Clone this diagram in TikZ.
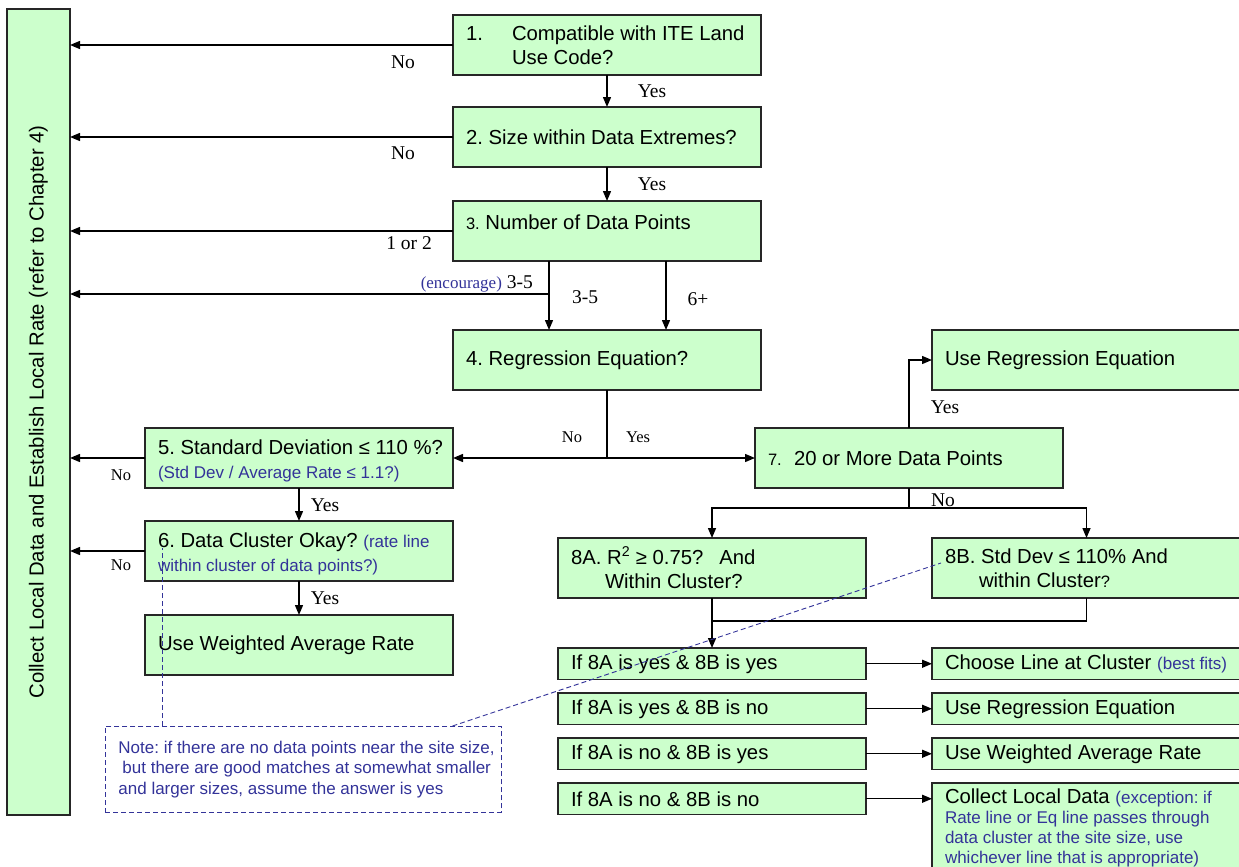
\documentclass[tikz,border=0pt]{standalone}
\usepackage{fontspec}
\setmainfont{Liberation Sans}
\newfontfamily\tnr{Liberation Serif}
\usetikzlibrary{arrows.meta}
\definecolor{boxgreen}{HTML}{CCFFCC}
\definecolor{noteblue}{HTML}{333399}
\newcommand{\bodyfont}{\fontsize{20.3}{24.5}\selectfont}
\newcommand{\aside}[1]{{\color{noteblue}\fontsize{17}{20}\selectfont #1}}
\newcommand{\smallnum}[1]{{\fontsize{16.5}{20}\selectfont #1}}
\newcommand{\evenspaces}{\frenchspacing\spaceskip=0pt\xspaceskip=0pt}
\tikzstyle{box}=[draw=black!85, fill=boxgreen, line width=1.3pt, anchor=north west, inner xsep=13pt, inner ysep=0pt, text width=282pt, minimum height=60pt, align=left, font=\bodyfont, outer sep=0pt, execute at begin node=\evenspaces]
\tikzstyle{row}=[box, minimum height=31.5pt]
\tikzstyle{wide}=[text width=283pt]
\tikzstyle{sidebar}=[draw=black!85, fill=boxgreen, line width=1.3pt, rotate=90, inner sep=0pt, minimum width=806pt, minimum height=63pt, font=\bodyfont, outer sep=0pt]
\tikzstyle{lab}=[inner sep=0pt, font=\tnr\fontsize{19.5}{22}\selectfont]
\tikzstyle{slab}=[inner sep=0pt, font=\tnr\fontsize{16.5}{19}\selectfont]
\tikzstyle{arr}=[line width=1.4pt, -{Triangle[length=10pt,width=8pt]}]
\tikzstyle{link}=[line width=1.4pt]
\tikzstyle{pin}=[noteblue, line width=0.9pt, dash pattern=on 5pt off 3pt]
\tikzstyle{notebox}=[draw=noteblue, line width=0.9pt, dash pattern=on 5pt off 3pt, text=noteblue, anchor=north west, inner xsep=13pt, inner ysep=0pt, text width=370pt, minimum height=86pt, align=left, font=\fontsize{17}{20.5}\selectfont, execute at begin node=\evenspaces]

\begin{document}
\begin{tikzpicture}[x=1pt, y=-1pt]
  \useasboundingbox (0,0) rectangle (1239,867);
  \clip (0,0) rectangle (1239,867);

  % left column
  \node[sidebar] (cl) at (38.5,412) {Collect Local Data and Establish Local Rate (refer to Chapter 4)};

  % main steps
  \node[box] (b1) at (453,15) {\makebox[46pt][l]{1.}Compatible with ITE Land\\\hspace*{46pt}Use Code?};
  \node[box] (b2) at (453,107) {2. Size within Data Extremes?};
  \node[box] (b3) at (453,201) {\raisebox{9pt}[\height][\depth]{\smallnum{3.} Number of Data Points}};
  \node[box] (b4) at (453,330) {4. Regression Equation?};
  \node[box] (b5) at (145,428) {\raisebox{-3pt}[\height][\depth]{\mbox{5. Standard Deviation ≤ 110 \%?}}\\\raisebox{-3pt}[\height][\depth]{\aside{(Std Dev / Average Rate ≤ 1.1?)}}};
  \node[box] (b6) at (145,521) {\raisebox{-3pt}[\height][\depth]{\mbox{6. Data Cluster Okay? \aside{(rate line}}}\\\raisebox{-3pt}[\height][\depth]{\aside{within cluster of data points?)}}};
  \node[box] (wavg) at (145,615) {Use Weighted Average Rate};
  \node[box] (b7) at (755,428) {\makebox[26pt][l]{\smallnum{7.}}20 or More Data Points};
  \node[box, wide] (ureg) at (932,330) {Use Regression Equation};
  \node[box] (b8a) at (558,538) {8A. R\textsuperscript{2} ≥ 0.75?\hspace{16pt}And\\\hspace*{34pt}Within Cluster?};
  \node[box, wide] (b8b) at (932,538) {8B. Std Dev ≤ 110\% And\\\hspace*{34pt}within Cluster\smallnum{?}};

  % outcome table
  \node[row] (r1) at (558,648) {If 8A is yes \& 8B is yes};
  \node[row] (r2) at (558,693) {If 8A is yes \& 8B is no};
  \node[row] (r3) at (558,738) {If 8A is no \& 8B is yes};
  \node[row] (r4) at (558,783) {If 8A is no \& 8B is no};
  \node[row, wide] (s1) at (932,648) {\mbox{Choose Line at Cluster \aside{(best fits)}}};
  \node[row, wide] (s2) at (932,693) {Use Regression Equation};
  \node[row, wide] (s3) at (932,738) {Use Weighted Average Rate};
  \node[row, wide, inner ysep=6pt, minimum height=0pt, font=\fontsize{20.3}{20}\selectfont] (s4) at (932,783)
    {Collect Local Data \aside{(exception: if\\Rate line or Eq line passes through\\data cluster at the site size, use\\whichever line that is appropriate)}};

  \node[notebox] (note) at (105,726)
    {\mbox{Note: if there are no data points near the site size,}\\\mbox{\hspace*{4pt}but there are good matches at somewhat smaller}\\and larger sizes, assume the answer is yes};

  % labels
  \node[lab] (no1) at (403,62) {No};
  \node[lab] (yes1) at (652,91) {Yes};
  \node[lab] (no2) at (403,153) {No};
  \node[lab] (yes2) at (652,184) {Yes};
  \node[lab] (few) at (409,243) {1 or 2};
  \node[lab, anchor=east] (encl) at (533,284) {\aside{(encourage)} 3-5};
  \node[lab] (mid) at (585,297) {3-5};
  \node[lab] (many) at (698,299) {6+};
  \node[slab] (no4) at (572,437) {No};
  \node[slab] (yes4) at (638,437) {Yes};
  \node[slab] (no5) at (121,475) {No};
  \node[lab] (yes5) at (325,505) {Yes};
  \node[slab] (no6) at (121,565) {No};
  \node[lab] (yes6) at (325,598) {Yes};
  \node[lab] (yes7) at (945,407) {Yes};
  \node[lab] (no7) at (943,500) {No};

  % connectors
  \draw[arr] (b1.west) -- (b1.west -| cl.south);
  \draw[arr] (b2.west) -- (b2.west -| cl.south);
  \draw[arr] (b3.west) -- (b3.west -| cl.south);
  \draw[arr] (b1.south) -- (b2.north);
  \draw[arr] (b2.south) -- (b3.north);
  \draw[arr] ([xshift=-58pt]b3.south) -- ([xshift=-58pt]b4.north);
  \draw[arr] ([xshift=59pt]b3.south) -- ([xshift=59pt]b4.north);
  \coordinate (tap) at ([xshift=-58pt,yshift=-33pt]b3.south);
  \draw[arr] (tap) -- (tap -| cl.south);

  \coordinate (split) at ([yshift=-68pt]b4.south);
  \draw[link] (b4.south) -- (split);
  \draw[arr] (split) -- (b5.east);
  \draw[arr] (split) -- (b7.west);
  \draw[arr] (b5.west) -- (b5.west -| cl.south);
  \draw[arr] (b6.west) -- (b6.west -| cl.south);
  \draw[arr] (b5.south) -- (b6.north);
  \draw[arr] (b6.south) -- (wavg.north);

  \draw[arr] (b7.north) |- (ureg.west);
  \coordinate (fork) at ([yshift=-20pt]b7.south);
  \draw[link] (b7.south) -- (fork);
  \draw[arr] (fork) -| (b8a.north);
  \draw[arr] (fork) -| (b8b.north);
  \coordinate (join) at ([yshift=-23pt]b8a.south);
  \draw[link] (b8b.south) |- (join);
  \draw[arr] (b8a.south) -- (r1.north);
  \foreach \i in {1,...,4}
    \draw[arr] (r\i.east) -- (r\i.east -| s\i.west);

  % note pointers
  \coordinate (pin6) at (162,548);
  \coordinate (pin8b) at (941,563);
  \draw[pin] (note.north -| pin6) -- (pin6);
  \draw[pin] ([xshift=149pt]note.north) -- (pin8b);
\end{tikzpicture}
\end{document}
